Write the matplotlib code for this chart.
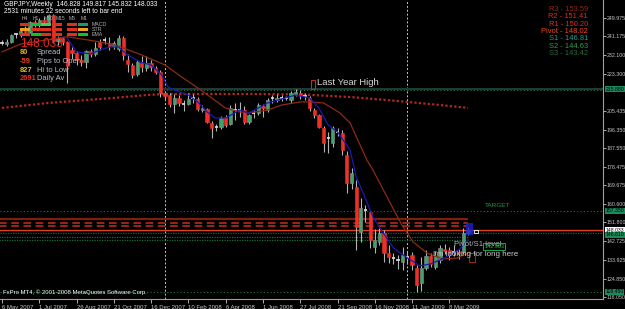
import matplotlib.pyplot as plt
from matplotlib.patches import Rectangle

plt.rcParams['font.family'] = ['Liberation Sans', 'DejaVu Sans']

# weekly GBPJPY bars, week of 6 May 2007 .. week of 5 Apr 2009
opens = [238.0, 237.6, 238.6, 241.8, 242.4, 243.8, 243.2, 248.0, 246.5, 249.2,
         248.0, 251.2, 239.0, 240.2, 238.3, 234.8, 233.0, 230.0, 229.0, 234.0,
         232.6, 238.5, 239.2, 238.0, 236.5, 235.0, 240.4, 230.0, 227.4, 223.0,
         228.4, 226.0, 228.4, 226.0, 224.1, 214.0, 213.0, 208.7, 211.6, 209.0,
         208.7, 211.3, 211.1, 205.8, 206.3, 199.6, 197.2, 197.7, 202.5, 199.0,
         205.8, 206.2, 206.0, 200.1, 204.0, 204.6, 207.5, 205.8, 211.2, 210.6,
         211.8, 211.4, 210.6, 213.5, 214.0, 212.5, 211.6, 205.8, 203.4, 197.2,
         192.0, 190.0, 195.3, 194.8, 184.2, 171.0, 169.0, 147.3, 158.0, 156.9,
         140.1, 142.5, 146.8, 137.1, 134.9, 134.0, 132.8, 135.5, 136.2, 130.0,
         122.7, 130.0, 135.7, 130.5, 133.8, 139.2, 138.6, 137.5, 137.8, 137.6,
         146.828]
highs = [239.6, 239.8, 242.5, 243.0, 244.5, 246.0, 248.5, 249.0, 249.8, 250.5,
         252.0, 251.8, 241.5, 241.0, 239.0, 236.0, 234.0, 232.0, 234.6, 235.2,
         238.5, 239.8, 240.8, 241.0, 239.0, 242.0, 241.5, 232.5, 228.5, 230.0,
         231.5, 231.5, 230.0, 227.0, 224.8, 215.0, 214.0, 213.5, 213.0, 210.5,
         214.0, 213.5, 212.0, 208.0, 207.0, 200.5, 199.0, 203.0, 203.5, 208.2,
         209.0, 209.5, 207.5, 204.0, 206.0, 209.0, 208.5, 211.5, 213.0, 213.5,
         213.0, 212.5, 215.0, 216.1, 215.5, 214.0, 212.5, 207.0, 204.0, 198.0,
         195.3, 198.0, 197.0, 196.0, 186.0, 178.0, 172.0, 163.6, 160.0, 158.0,
         148.8, 149.0, 148.0, 141.0, 137.0, 136.0, 140.1, 138.0, 137.5, 131.5,
         135.2, 138.6, 137.0, 138.0, 141.0, 141.5, 140.0, 141.0, 139.0, 149.0,
         149.817]
lows = [236.8, 236.5, 238.0, 240.2, 241.0, 242.5, 242.8, 245.5, 245.8, 247.5,
        247.0, 238.2, 237.0, 236.8, 219.0, 230.5, 227.6, 227.0, 226.0, 231.2,
        231.5, 234.5, 237.5, 234.5, 235.0, 234.0, 230.0, 224.1, 221.1, 222.0,
        224.0, 224.5, 224.5, 223.0, 212.0, 211.0, 207.3, 204.4, 207.8, 205.5,
        208.0, 209.0, 205.5, 205.0, 199.5, 192.4, 195.5, 196.5, 197.5, 198.5,
        201.0, 202.5, 199.0, 199.0, 202.0, 203.5, 202.5, 205.0, 209.0, 209.5,
        210.0, 210.5, 209.0, 212.5, 211.0, 210.5, 205.5, 202.0, 197.0, 185.6,
        185.3, 188.1, 193.5, 184.2, 166.0, 168.0, 138.6, 142.5, 152.0, 139.6,
        137.0, 141.0, 132.8, 132.3, 132.0, 129.5, 129.0, 132.0, 129.0, 118.4,
        118.8, 129.0, 130.5, 129.5, 132.5, 136.5, 134.0, 135.5, 134.5, 136.5,
        145.832]
closes = [237.6, 238.6, 241.8, 242.4, 243.8, 243.2, 248.0, 246.5, 249.2, 248.0,
          251.2, 239.0, 240.2, 238.3, 226.8, 233.2, 230.0, 229.0, 234.0, 232.6,
          235.6, 236.2, 239.5, 236.5, 237.8, 240.4, 232.0, 227.9, 222.6, 228.9,
          226.5, 228.4, 226.5, 224.1, 214.0, 212.5, 208.7, 211.6, 209.2, 208.5,
          211.1, 211.6, 206.3, 206.8, 200.1, 197.2, 197.7, 202.0, 198.6, 206.8,
          206.2, 205.8, 200.1, 203.4, 204.6, 208.2, 206.8, 210.6, 211.6, 211.8,
          211.4, 211.6, 214.0, 214.5, 212.5, 212.2, 206.8, 203.4, 197.7, 190.0,
          192.5, 197.2, 195.0, 186.6, 170.8, 175.6, 149.7, 158.8, 157.5, 143.4,
          143.4, 146.8, 137.1, 135.2, 134.7, 133.8, 136.2, 135.2, 131.4, 121.8,
          130.0, 135.7, 132.0, 135.5, 139.6, 138.0, 136.2, 137.8, 137.0, 146.8,
          148.033]

# moving averages (bar index, price)
fast_idx = [14, 16, 19, 21, 23, 25, 27, 29.6, 32, 34.3, 35.6, 37, 40, 42, 44, 45.7,
            48, 51, 53, 57, 63, 66, 68, 70, 72, 74.7, 76, 77.5, 79.6, 81.8, 84, 87,
            89.7, 92, 95, 98, 100]
fast_val = [240.4, 233.7, 232.7, 234.6, 236.0, 236.0, 232.2, 228.9, 227.4, 222.6,
            216.9, 215.4, 213.0, 209.7, 204.9, 202.0, 202.0, 205.8, 204.4, 209.2,
            213.0, 211.6, 206.8, 198.6, 195.3, 186.6, 173.7, 166.0, 154.5, 146.8,
            139.6, 134.8, 131.0, 131.9, 134.8, 138.6, 143.4]
slow_idx = [0, 4, 14, 21, 25, 30, 35, 38.6, 42, 45, 47.9, 51, 53, 57, 60, 64, 66,
            69, 72.5, 74.7, 76.8, 78.3, 79.6, 83.3, 85.8, 88.2, 91.2, 94.6, 97.6, 100.4]
slow_val = [233.7, 237.5, 241.0, 238.5, 236.5, 232.2, 227.4, 221.6, 216.4, 211.6,
            206.8, 204.9, 204.4, 205.8, 208.2, 209.7, 209.7, 209.2, 204.4, 199.6,
            189.2, 181.8, 177.0, 161.2, 150.6, 142.5, 137.1, 134.3, 134.7, 137.6]
long_idx = [0, 10, 24, 31, 35, 53, 64, 75, 85, 94, 100]
long_val = [206.8, 209.2, 211.6, 213.0, 213.5, 213.5, 213.3, 212.0, 210.1, 208.2, 206.8]

pivot_names = ["R3", "R2", "R1", "Pivot", "S1", "S2", "S3"]
pivot_vals = [153.59, 151.41, 150.20, 148.02, 146.81, 144.63, 143.42]
last_year_high = 215.88
target = 157.35
year_low = 118.45
bid = 148.033

date_labels = ["6 May 2007", "1 Jul 2007", "26 Aug 2007", "21 Oct 2007", "16 Dec 2007",
               "10 Feb 2008", "6 Apr 2008", "1 Jun 2008", "27 Jul 2008", "21 Sep 2008",
               "16 Nov 2008", "11 Jan 2009", "8 Mar 2009"]
price_ticks = [249.975, 241.175, 232.100, 223.300, 205.435, 196.350, 187.550, 178.475,
               169.675, 160.600, 151.800, 142.725, 133.925, 124.850, 116.050]

W, H = 625, 309
fig = plt.figure(figsize=(W / 100, H / 100), dpi=100, facecolor='black')
ax = fig.add_axes([0, 10 / H, 603 / W, 299 / H], facecolor='black')


def fx(x):
    return x / W


def fy(y):
    return 1 - y / H


# candles
for i in range(len(opens)):
    o, h, l, c = opens[i], highs[i], lows[i], closes[i]
    ax.vlines(i, l, h, color='#b4b4b4', lw=0.8, zorder=4)
    if abs(c - o) < 0.6:
        ax.hlines((o + c) / 2, i - 0.35, i + 0.35, color='#e0e0e0', lw=1.2, zorder=5)
    else:
        col = '#3aa46a' if c > o else '#f03028'
        ax.bar(i, abs(c - o), bottom=min(o, c), width=0.7, color=col,
               edgecolor='#909090' if c > o else col, lw=0.4, zorder=5)

ax.plot(long_idx, long_val, color='#b02a20', lw=1.6, ls=(0, (1, 1)), zorder=3)
ax.plot(slow_idx, slow_val, color='#8c2a14', lw=0.9, zorder=6)
ax.plot(fast_idx, fast_val, color='#1a1ab4', lw=0.9, zorder=6)

# horizontal levels
ax.axhline(last_year_high, color='#1e3a3a', lw=1.5, zorder=2)
ax.axhline(last_year_high - 0.6, color='#1a7a3a', lw=0.8, ls=(0, (1, 2)), zorder=2)
ax.axhline(target, color='#1a7a3a', lw=0.8, ls=(0, (1, 2)), zorder=2)
ax.axhline(year_low, color='#1a7a3a', lw=0.8, ls=(0, (1, 2)), zorder=2)
n = len(opens) - 1
ax.hlines(pivot_vals[0], -1, n, color='#7a2010', lw=1.6, zorder=2)
ax.hlines(pivot_vals[1:3], -1, n, color='#c8301c', lw=1.1, ls=(0, (5, 3)), zorder=2)
ax.axhline(pivot_vals[3], color='#e0401e', lw=1.0, zorder=2)
ax.axhline(pivot_vals[4], color='#1e5a46', lw=0.9, ls=(0, (1, 1)), zorder=2)
ax.hlines(pivot_vals[5:], -1, n, color='#1a6a3a', lw=0.9, ls=(0, (1, 1)), zorder=2)

# year separators
for sep in [35, 87]:
    ax.axvline(sep, color='#c8c8c8', lw=0.7, ls=(0, (2, 2)), zorder=1)

ax.set_xlim(-0.43, 128.97)
ax.set_ylim(115.07, 258.62)

ax.set_xticks(range(0, 8 * len(date_labels), 8))
ax.set_xticklabels(date_labels, ha='left')
ax.yaxis.tick_right()
ax.set_yticks(price_ticks)
ax.set_yticklabels([f"{v:.3f}" for v in price_ticks])
ax.tick_params(axis='x', colors='#c8c8c8', labelsize=4.3, length=3, width=0.6, pad=1.5)
ax.tick_params(axis='y', colors='#c8c8c8', labelsize=3.8, length=2, width=0.6, pad=0.6)
for s in ['left', 'top']:
    ax.spines[s].set_visible(False)
for s in ['right', 'bottom']:
    ax.spines[s].set_color('#a0a0a0')
    ax.spines[s].set_linewidth(0.8)

# right-axis price boxes
for val, fc, txt in [(last_year_high, '#1a8a5a', f"{last_year_high:.3f}"),
                     (target, '#1a8a5a', f"{target:.3f}"),
                     (bid, 'white', f"{bid:.3f}"),
                     (pivot_vals[4] - 0.9, '#1a8a5a', f"{pivot_vals[4]:.3f}"),
                     (year_low, '#1a8a5a', f"{year_low:.3f}")]:
    ax.text(1.0045, val, txt, transform=ax.get_yaxis_transform(), fontsize=3.7,
            color='black', va='center', ha='left', zorder=10, clip_on=False,
            bbox=dict(boxstyle='square,pad=0.1', fc=fc, ec='none'))

# annotations in the chart
ax.text(67.6, 219.2, "Last Year High", color='#d8d8d8', fontsize=6.8, va='center', zorder=8)
ax.add_patch(Rectangle((66.3, 215.9), 0.9, 4.3, fill=False, ec='#c0301c', lw=0.8, zorder=8))
ax.text(103.6, 160.0, "TARGET", color='#1e9a4a', fontsize=4.6, va='center', zorder=8)
ax.text(96.9, 141.3, "Pivot/S1 level", color='#b0b0b0', fontsize=5.6, va='center', zorder=8)
ax.text(103.5, 140.3, "142.963", color='#20c050', fontsize=4.0, va='center', zorder=8,
        bbox=dict(boxstyle='square,pad=0.15', fc='none', ec='#20c050', lw=0.6))
ax.text(92.5, 136.4, "I'm looking for long here", color='#c8c8c8', fontsize=5.8,
        va='center', zorder=8)
ax.add_patch(Rectangle((99.6, 146.0), 1.4, 5.6, fc='#2020d0', ec='none', alpha=0.8, zorder=7))
ax.add_patch(Rectangle((101.3, 146.8), 0.9, 1.4, fc='none', ec='white', lw=0.6, zorder=7))
ax.add_patch(Rectangle((100.2, 133.0), 1.4, 4.0, fill=False, ec='#c0301c', lw=0.6, zorder=7))

# header
fig.text(fx(4), fy(5), "GBPJPY,Weekly  146.828 149.817 145.832 148.033", color='white',
         fontsize=4.8, va='center')
fig.text(fx(4), fy(11.5), "2531 minutes 22 seconds left to bar end", color='white',
         fontsize=4.8, va='center')

# signal table
tf_names = ["H4", "H1", "M30", "M15", "M5", "M1"]
tf_x = [22, 33, 44, 56, 69, 81]
block_x = [20, 31, 41, 52, 67, 78]
rows = ["MACD", "STR", "EMA"]
row_y = [24.5, 29.5, 34.5]
row_colors = [['#d83020', '#10c030', '#40d060', '#e03020', '#e03020', '#1a9a6a'],
              ['#f0a020', '#e03020', '#e03020', '#e03020', '#e03020', '#f0a020'],
              ['#e03020', '#10c030', '#e03020', '#e03020', '#e03020', '#10c030']]
for name, x in zip(tf_names, tf_x):
    fig.text(fx(x), fy(19), name, color='#b0b0b0', fontsize=3.6, va='center')
for r, (name, y) in enumerate(zip(rows, row_y)):
    for x, col in zip(block_x, row_colors[r]):
        fig.add_artist(Rectangle((fx(x), fy(y + 1.5)), 10 / W, 3 / H, fc=col, ec='none',
                                 transform=fig.transFigure, zorder=9))
    fig.text(fx(92), fy(y), name, color='#b0b0b0', fontsize=3.8, va='center')

# price info block
fig.text(fx(20), fy(44), "148.033", color='#e8261c', fontsize=8.5, va='center')
info_nums = ["80", "-59", "827", "2691"]
info_cols = ['#e0b020', '#f04020', '#e0c020', '#e82a1a']
info_text = ["Spread", "Pips to Open", "Hi to Low", "Daily Av"]
for k in range(4):
    y = 53 + 8.6 * k
    fig.text(fx(20), fy(y), info_nums[k], color=info_cols[k], fontsize=5.4, va='center',
             weight='bold')
    fig.text(fx(37), fy(y), info_text[k], color='#b8c0cc', fontsize=5.4, va='center')

# pivot table top right
piv_cols = ['#8c2a1a', '#d8301c', '#d8301c', '#f04a1a', '#20a08a', '#30a050', '#2a6a3a']
for k in range(7):
    fig.text(fx(588), fy(9.5 + 7.3 * k), f"{pivot_names[k]} - {pivot_vals[k]:.2f}",
             color=piv_cols[k], fontsize=5.4, va='center', ha='right')

fig.text(fx(3), fy(292), "FxPro MT4, \u00a9 2001-2008 MetaQuotes Software Corp.",
         color='white', fontsize=4.3, va='center')

fig.savefig("out.png", dpi=100, facecolor='black')
